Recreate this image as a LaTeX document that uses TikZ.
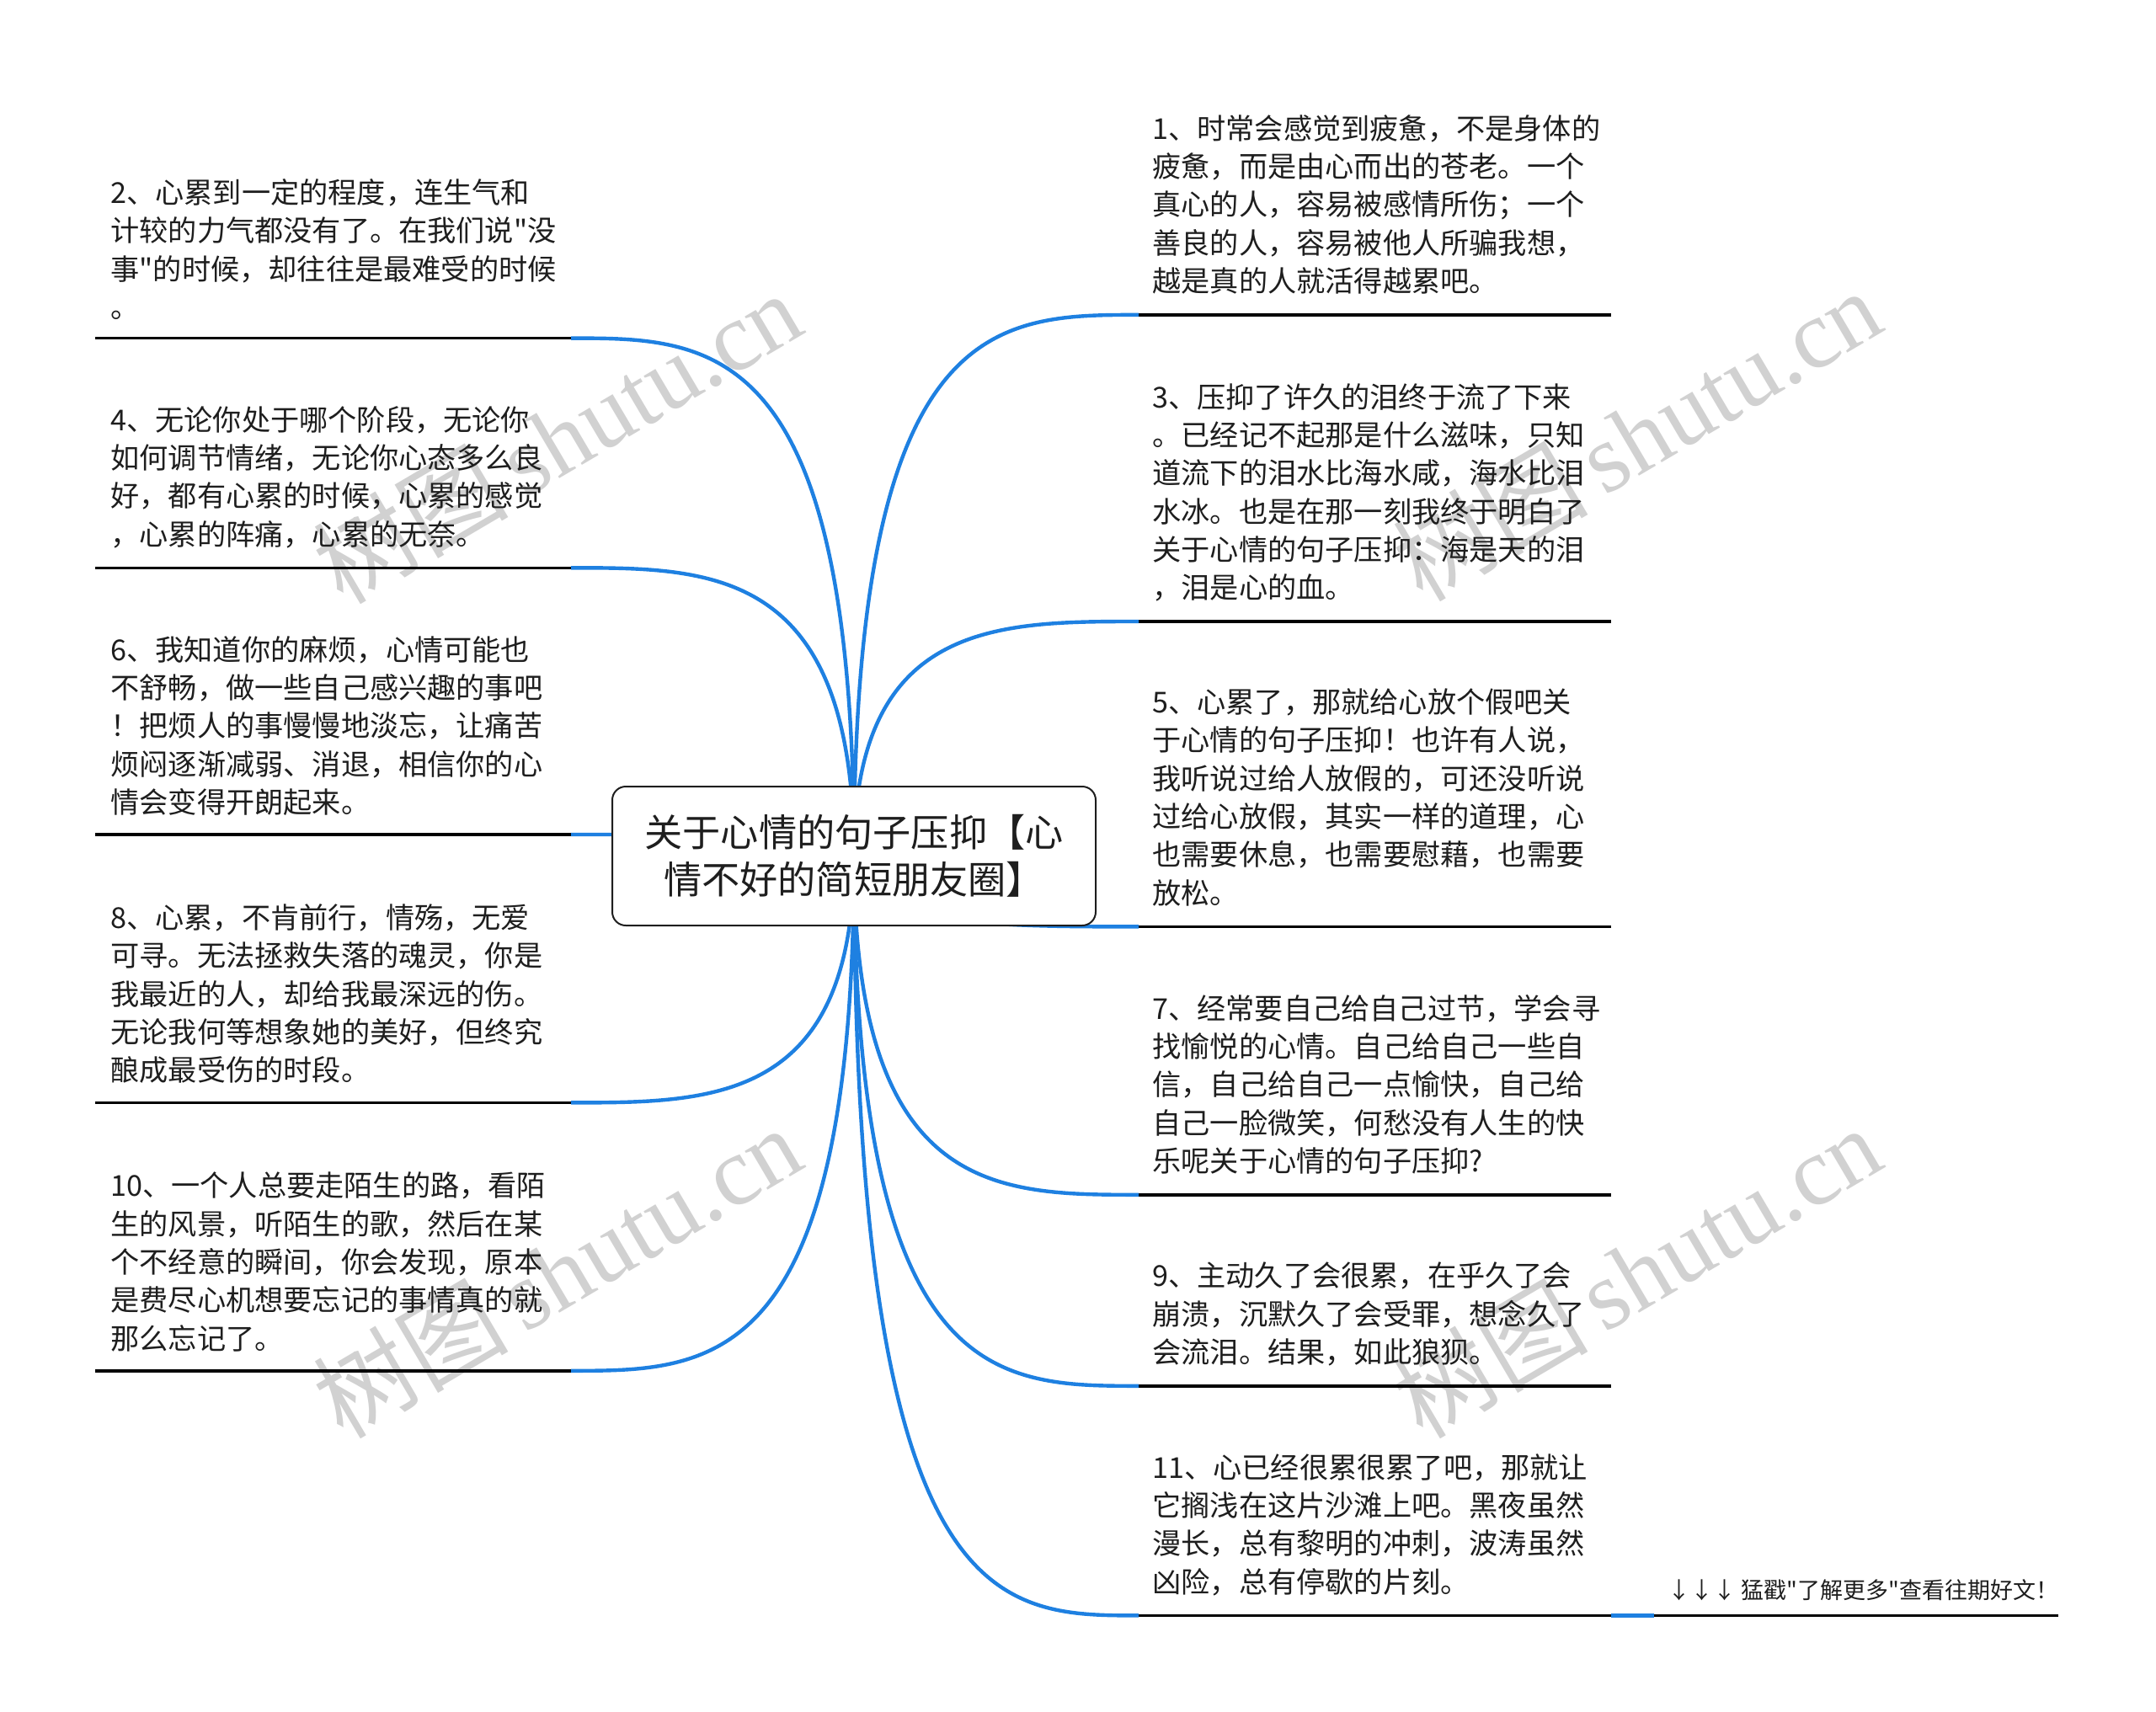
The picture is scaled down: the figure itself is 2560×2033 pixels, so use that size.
\documentclass[tikz,border=0pt]{standalone}
\usepackage{fontspec}
\setmainfont{Noto Sans CJK SC}
\newfontfamily\bodyfont{Noto Sans CJK SC}
\newfontfamily\wmlatin{Liberation Serif}
\newfontfamily\wmcjk{Noto Sans CJK SC}
\usetikzlibrary{backgrounds}
\definecolor{linkblue}{RGB}{30,128,225}
\definecolor{inkc}{RGB}{30,30,30}
\begin{document}
\begin{tikzpicture}[x=0.5pt,y=-0.5pt,
  leaf/.style={anchor=base west, inner sep=0pt, align=left, text=inkc,
    font=\bodyfont\fontsize{17.1pt}{22.65pt}\selectfont},
  rootbox/.style={draw=inkc, line width=1pt, fill=white, rounded corners=8pt,
    minimum width=287pt, minimum height=82.5pt, inner sep=0pt, align=center,
    text=inkc, font=\bodyfont\fontsize{22.6pt}{28pt}\selectfont},
  uline/.style={draw=black, line width=1.7pt},
  link/.style={draw=linkblue, line width=2.2pt},
  wmark/.style={text=black!18, rotate=30.5, inner sep=0pt,
    font=\fontsize{58pt}{60pt}\selectfont},
  foot/.style={anchor=base west, inner sep=0pt, text=inkc,
    font=\bodyfont\fontsize{13.5pt}{16pt}\selectfont}]
\useasboundingbox (0,0) rectangle (2560,2033);

% root
\node[rootbox] (root) at (1014,1016.5) {\raisebox{1.5pt}{关于心情的句子压抑【心}\\\raisebox{1.5pt}{情不好的简短朋友圈】}};

% left leaves (base = last line)
\node[leaf] (l2) at (131,377.5) {2、心累到一定的程度，连生气和\\计较的力气都没有了。在我们说"没\\事"的时候，却往往是最难受的时候\\。};
\node[leaf] (l4) at (131,647) {4、无论你处于哪个阶段，无论你\\如何调节情绪，无论你心态多么良\\好，都有心累的时候，心累的感觉\\，心累的阵痛，心累的无奈。};
\node[leaf] (l6) at (131,965.3) {6、我知道你的麻烦，心情可能也\\不舒畅，做一些自己感兴趣的事吧\\！把烦人的事慢慢地淡忘，让痛苦\\烦闷逐渐减弱、消退，相信你的心\\情会变得开朗起来。};
\node[leaf] (l8) at (131,1283.7) {8、心累，不肯前行，情殇，无爱\\可寻。无法拯救失落的魂灵，你是\\我最近的人，却给我最深远的伤。\\无论我何等想象她的美好，但终究\\酿成最受伤的时段。};
\node[leaf] (l10) at (131,1602.1) {10、一个人总要走陌生的路，看陌\\生的风景，听陌生的歌，然后在某\\个不经意的瞬间，你会发现，原本\\是费尽心机想要忘记的事情真的就\\那么忘记了。};

% right leaves
\node[leaf] (r1) at (1368,346.5) {1、时常会感觉到疲惫，不是身体的\\疲惫，而是由心而出的苍老。一个\\真心的人，容易被感情所伤；一个\\善良的人，容易被他人所骗我想，\\越是真的人就活得越累吧。};
\node[leaf] (r3) at (1368,710.6) {3、压抑了许久的泪终于流了下来\\。已经记不起那是什么滋味，只知\\道流下的泪水比海水咸，海水比泪\\水冰。也是在那一刻我终于明白了\\关于心情的句子压抑：海是天的泪\\，泪是心的血。};
\node[leaf] (r5) at (1368,1073.1) {5、心累了，那就给心放个假吧关\\于心情的句子压抑！也许有人说，\\我听说过给人放假的，可还没听说\\过给心放假，其实一样的道理，心\\也需要休息，也需要慰藉，也需要\\放松。};
\node[leaf] (r7) at (1368,1391.4) {7、经常要自己给自己过节，学会寻\\找愉悦的心情。自己给自己一些自\\信，自己给自己一点愉快，自己给\\自己一脸微笑，何愁没有人生的快\\乐呢关于心情的句子压抑?};
\node[leaf] (r9) at (1368,1618.4) {9、主动久了会很累，在乎久了会\\崩溃，沉默久了会受罪，想念久了\\会流泪。结果，如此狼狈。};
\node[leaf] (r11) at (1368,1891) {11、心已经很累很累了吧，那就让\\它搁浅在这片沙滩上吧。黑夜虽然\\漫长，总有黎明的冲刺，波涛虽然\\凶险，总有停歇的片刻。};

\node[foot] (ft) at (1980,1898) {↓↓↓ 猛戳"了解更多"查看往期好文！};

% underline end points
\coordinate (l2a) at (113,401.6);  \coordinate (l2b) at (678,401.6);
\coordinate (l4a) at (113,674.3);  \coordinate (l4b) at (678,674.3);
\coordinate (l6a) at (113,991);    \coordinate (l6b) at (678,991);
\coordinate (l8a) at (113,1309.4); \coordinate (l8b) at (678,1309.4);
\coordinate (l10a) at (113,1627.8);\coordinate (l10b) at (678,1627.8);
\coordinate (r1a) at (1352,373.9); \coordinate (r1b) at (1913,373.9);
\coordinate (r3a) at (1352,738);   \coordinate (r3b) at (1913,738);
\coordinate (r5a) at (1352,1100.4);\coordinate (r5b) at (1913,1100.4);
\coordinate (r7a) at (1352,1418.8);\coordinate (r7b) at (1913,1418.8);
\coordinate (r9a) at (1352,1645.8);\coordinate (r9b) at (1913,1645.8);
\coordinate (r11a) at (1352,1918.4);\coordinate (r11b) at (1913,1918.4);
\coordinate (fta) at (1964,1918.4); \coordinate (ftb) at (2444,1918.4);

\begin{pgfonlayer}{background}
\fill[white] (0,0) rectangle (2560,2033);
% watermarks
\node[wmark] (w1) at (661,519) {{\wmcjk 树图}\,{\wmlatin shutu.cn}};
\node[wmark] (w2) at (1943,516) {{\wmcjk 树图}\,{\wmlatin shutu.cn}};
\node[wmark] (w3) at (661,1510) {{\wmcjk 树图}\,{\wmlatin shutu.cn}};
\node[wmark] (w4) at (1943,1510) {{\wmcjk 树图}\,{\wmlatin shutu.cn}};
\foreach \p in {l2,l4,l6,l8,l10,r1,r3,r5,r7,r9,r11}
  \draw[uline] (\p a) -- (\p b);
\draw[uline] (fta) -- (ftb);
% connectors
\draw[link] (root.center) .. controls (1014,401.6) and (846,401.6) .. (l2b);
\draw[link] (root.center) .. controls (1014,674.3) and (846,674.3) .. (l4b);
\draw[link] (root.center) .. controls (1014,991) and (846,991) .. (l6b);
\draw[link] (root.center) .. controls (1014,1309.4) and (846,1309.4) .. (l8b);
\draw[link] (root.center) .. controls (1014,1627.8) and (846,1627.8) .. (l10b);
\draw[link] (root.center) .. controls (1014,373.9) and (1183,373.9) .. (r1a);
\draw[link] (root.center) .. controls (1014,738) and (1183,738) .. (r3a);
\draw[link] (root.center) .. controls (1014,1100.4) and (1183,1100.4) .. (r5a);
\draw[link] (root.center) .. controls (1014,1418.8) and (1183,1418.8) .. (r7a);
\draw[link] (root.center) .. controls (1014,1645.8) and (1183,1645.8) .. (r9a);
\draw[link] (root.center) .. controls (1014,1918.4) and (1183,1918.4) .. (r11a);
\draw[link] (r11b) -- (fta);
\end{pgfonlayer}
\end{tikzpicture}
\end{document}
